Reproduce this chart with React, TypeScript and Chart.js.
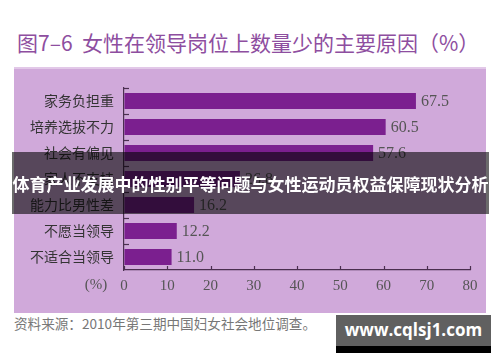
import React, { useEffect, useRef } from "react";
import { Chart, registerables } from "chart.js";

Chart.register(...registerables);

const categories = ["家务负担重", "培养选拔不力", "社会有偏见", "家人不支持", "能力比男性差", "不愿当领导", "不适合当领导"];
const values = [67.5, 60.5, 57.6, 26.8, 16.2, 12.2, 11.0];
const xMin = 0;
const xMax = 80;
const xStep = 10;

const titleText = "图7–6  女性在领导岗位上数量少的主要原因（%）";
const bannerText = "体育产业发展中的性别平等问题与女性运动员权益保障现状分析";
const sourceText = "资料来源：2010年第三期中国妇女社会地位调查。";
const watermarkText = "www.cqlsj1.com";
const unitText = "(%)";

const AXIS_COLOR = "#4a2f4f";
const SERIF = "'Liberation Serif', 'DejaVu Serif', serif";
const CJK = "'Noto Sans CJK SC', sans-serif";

const decorPlugin = {
  id: "decor",
  afterDraw(chart: any) {
    const ctx = chart.ctx;
    const xs = chart.scales.x;
    const ys = chart.scales.y;
    const area = chart.chartArea;
    ctx.save();
    ctx.strokeStyle = AXIS_COLOR;
    ctx.lineWidth = 1.2;
    for (let v = xMin; v <= xMax; v += xStep) {
      const px = Math.round(xs.getPixelForValue(v)) + 0.5;
      ctx.beginPath();
      ctx.moveTo(px, area.bottom);
      ctx.lineTo(px, area.bottom - 4);
      ctx.stroke();
    }
    for (let i = 0; i < categories.length; i++) {
      const py = Math.round(ys.getPixelForValue(i - 0.5)) + 0.5;
      ctx.beginPath();
      ctx.moveTo(area.left, py);
      ctx.lineTo(area.left + 5, py);
      ctx.stroke();
    }
    const meta = chart.getDatasetMeta(0);
    ctx.fillStyle = "#555";
    ctx.font = `16px ${SERIF}`;
    ctx.textBaseline = "middle";
    ctx.textAlign = "left";
    meta.data.forEach((bar: any, i: number) => {
      ctx.fillText(values[i].toFixed(1), bar.x + 5, bar.y + 1);
    });
    ctx.textAlign = "center";
    ctx.font = `15px ${SERIF}`;
    ctx.fillText(unitText, area.left - 28, area.bottom + 15);
    ctx.restore();
  },
};

export default function App() {
  const ref = useRef<HTMLCanvasElement>(null);
  useEffect(() => {
    if (!ref.current) return;
    const chart = new Chart(ref.current, {
      type: "bar",
      data: {
        labels: categories,
        datasets: [
          {
            data: values,
            backgroundColor: "#7b1f8f",
            borderWidth: 0,
            barPercentage: 0.62,
            categoryPercentage: 1,
          },
        ],
      },
      options: {
        indexAxis: "y",
        responsive: false,
        animation: false,
        layout: { padding: { top: 20, right: 16, bottom: 0, left: 0 } },
        plugins: { legend: { display: false }, tooltip: { enabled: false } },
        scales: {
          x: {
            min: xMin,
            max: xMax,
            ticks: { stepSize: xStep, color: "#555", font: { family: SERIF, size: 15 }, padding: 7 },
            grid: { display: true, drawOnChartArea: false, drawTicks: false },
            border: { display: true, color: AXIS_COLOR, width: 1.2 },
            afterFit: (s: any) => {
              s.height = 43;
            },
          },
          y: {
            ticks: { color: "#333", font: { family: CJK, size: 14 }, padding: 10 },
            grid: { display: true, drawOnChartArea: false, drawTicks: false },
            border: { display: true, color: AXIS_COLOR, width: 1.2 },
            afterFit: (s: any) => {
              s.width = 110;
            },
          },
        },
      },
      plugins: [decorPlugin],
    });
    return () => chart.destroy();
  }, []);

  return (
    <div style={{ position: "absolute", left: 0, top: 0, width: 500, height: 362, background: "#fff", overflow: "hidden" }}>
      <div
        style={{
          position: "absolute",
          left: 17,
          top: 32,
          fontFamily: CJK,
          fontSize: 21,
          lineHeight: "21px",
          color: "#8e4ea0",
          whiteSpace: "pre",
        }}
      >
        {titleText}
      </div>
      <div
        style={{
          position: "absolute",
          left: 14,
          top: 67,
          width: 472,
          height: 246,
          background: "#d0a9da",
          borderTop: "2px solid #e2c8e8",
          boxSizing: "border-box",
        }}
      />
      <canvas ref={ref} width={472} height={245} style={{ position: "absolute", left: 14, top: 68, width: 472, height: 245 }} />
      <div
        style={{
          position: "absolute",
          left: 12,
          top: 152,
          width: 477,
          height: 62,
          background: "rgba(0,0,0,0.58)",
          display: "flex",
          alignItems: "center",
          justifyContent: "center",
          color: "#fff",
          fontFamily: CJK,
          fontWeight: 700,
          fontSize: 17,
          whiteSpace: "nowrap",
        }}
      >
        {bannerText}
      </div>
      <div
        style={{
          position: "absolute",
          left: 14,
          top: 316,
          fontFamily: CJK,
          fontSize: 13.6,
          lineHeight: "14px",
          color: "#777",
          whiteSpace: "nowrap",
        }}
      >
        {sourceText}
      </div>
      <div style={{ position: "absolute", left: 336, top: 315, width: 155, height: 31, background: "#606060" }} />
      <div style={{ position: "absolute", left: 336, top: 346, width: 155, height: 7, background: "#000" }} />
      <div
        style={{
          position: "absolute",
          left: 336,
          top: 315,
          width: 155,
          height: 28,
          display: "flex",
          alignItems: "center",
          justifyContent: "center",
          color: "#fff",
          fontFamily: "'Open Sans', sans-serif",
          fontWeight: 700,
          fontSize: 17,
          whiteSpace: "nowrap",
        }}
      >
        {watermarkText}
      </div>
    </div>
  );
}
